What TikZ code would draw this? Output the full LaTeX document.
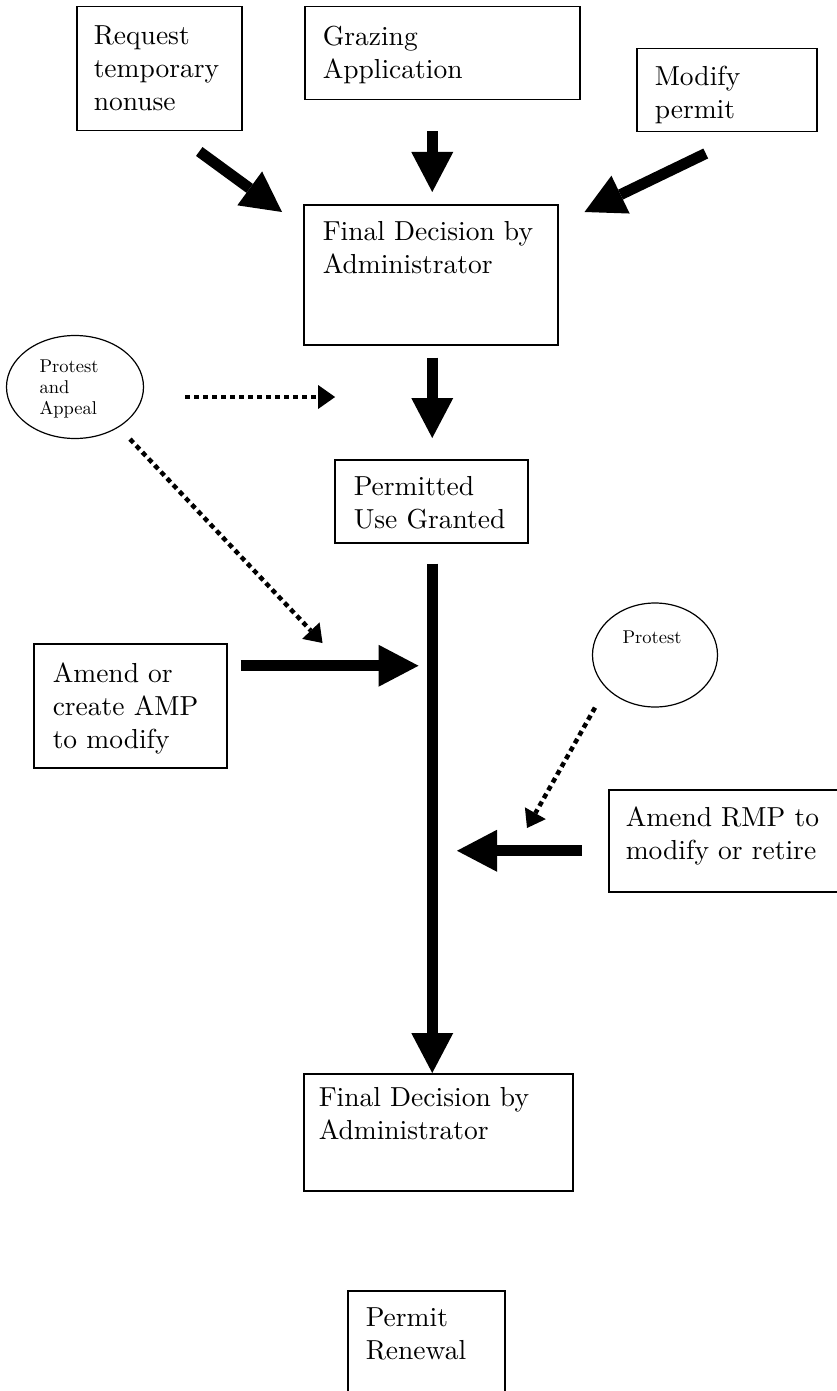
\documentclass[tikz,border=0pt]{standalone}
\usepackage{fontspec}
\setmainfont{lmroman10-regular.otf}[BoldFont=lmroman10-bold.otf]
\usepackage{tikz}
\usetikzlibrary{positioning,calc,arrows.meta,shapes.geometric}
\tikzset{every path/.append style={line width=1.5pt}}
\tikzset{
  box/.style={draw, anchor=north west, inner sep=0pt},
  boxtext/.style={anchor=north west, inner sep=0pt, align=left, font=\fontsize{27.5}{33}\selectfont},
  oval/.style={draw, ellipse, line width=1.2pt, inner sep=0pt},
  ovaltext/.style={inner sep=0pt, align=left, font=\fontsize{18.5}{21}\selectfont},
  bigarrow/.style={line width=11pt, -{Triangle[length=40pt,width=42pt,line width=0pt]}},
  dotarrow/.style={line width=4.5pt, dash pattern=on 5pt off 4pt, -{Triangle[length=17pt,width=24pt,line width=0pt]}}
}

\begin{document}
\begin{tikzpicture}[x=1pt,y=-1pt]
 \useasboundingbox (0,0) rectangle (837,1391);
 % boxes, pixel coordinates, y pointing down
 \node[box, minimum width=165, minimum height=124] (req) at (76,6) {};
 \node[boxtext] (reqt) at ($(req.north west)+(17,19)$) {Request\\temporary\\nonuse};
 \node[box, minimum width=275, minimum height=93] (graz) at (304,6) {};
 \node[boxtext] (grazt) at ($(graz.north west)+(18,19)$) {Grazing\\Application};
 \node[box, minimum width=180, minimum height=83] (mod) at (636,48) {};
 \node[boxtext] (modt) at ($(mod.north west)+(18,17)$) {Modify\\permit};
 \node[box, minimum width=254, minimum height=140] (fd1) at (303,204) {};
 \node[boxtext] (fd1t) at ($(fd1.north west)+(19,17)$) {Final Decision by\\Administrator};
 \node[box, minimum width=193, minimum height=83] (perm) at (334,459) {};
 \node[boxtext] (permt) at ($(perm.north west)+(19,17)$) {Permitted\\Use Granted};
 \node[box, minimum width=193, minimum height=124] (amp) at (33,643) {};
 \node[boxtext] (ampt) at ($(amp.north west)+(19,19)$) {Amend or\\create AMP\\to modify};
 \node[box, minimum width=240, minimum height=102] (rmp) at (608,789) {};
 \node[boxtext] (rmpt) at ($(rmp.north west)+(17,17)$) {Amend RMP to\\modify or retire};
 \node[box, minimum width=269, minimum height=117] (fd2) at (303,1073) {};
 \node[boxtext] (fd2t) at ($(fd2.north west)+(15,14)$) {Final Decision by\\Administrator};
 \node[box, minimum width=157, minimum height=140] (ren) at (347,1290) {};
 \node[boxtext] (rent) at ($(ren.north west)+(18,17)$) {Permit\\Renewal};

 % ovals
 \node[oval, minimum width=137, minimum height=103] (pa) at (75,387) {};
 \node[ovaltext] (pat) at ($(pa.center)+(-6,2)$) {Protest\\and\\Appeal};
 \node[oval, minimum width=125, minimum height=104] (pr) at (655,655) {};
 \node[ovaltext] (prt) at ($(pr.center)+(-3,-18)$) {Protest};

 % solid arrows
 \draw[bigarrow] ($(req.south)+(40,20)$) -- ($(fd1.north west)+(-21,8)$);
 \draw[bigarrow] ($(graz.south)+(-10,31)$) -- ($(fd1.north)+(1.5,-12)$);
 \draw[bigarrow] ($(mod.south)+(-21,21)$) -- ($(fd1.north east)+(26,8)$);
 \draw[bigarrow] ($(fd1.south)+(1.5,12)$) -- ($(perm.north)+(1,-21)$);
 \draw[bigarrow] ($(perm.south)+(1,20)$) -- ($(fd2.north)+(-6,0)$);
 \draw[bigarrow] ($(amp.east)+(13,-40)$) -- ++(178,0);
 \draw[bigarrow] ($(rmp.west)+(-26,10)$) -- ++(-125,0);

 % dotted arrows
 \draw[dotarrow] ($(pa.east)+(41,10)$) -- ++(150,0);
 \draw[dotarrow] ($(pa.south)+(55,0)$) -- ($(amp.north east)+(95,0)$);
 \draw[dotarrow] ($(pr.south)+(-60,0)$) -- ($(rmp.north west)+(-81,39)$);
\end{tikzpicture}
\end{document}
